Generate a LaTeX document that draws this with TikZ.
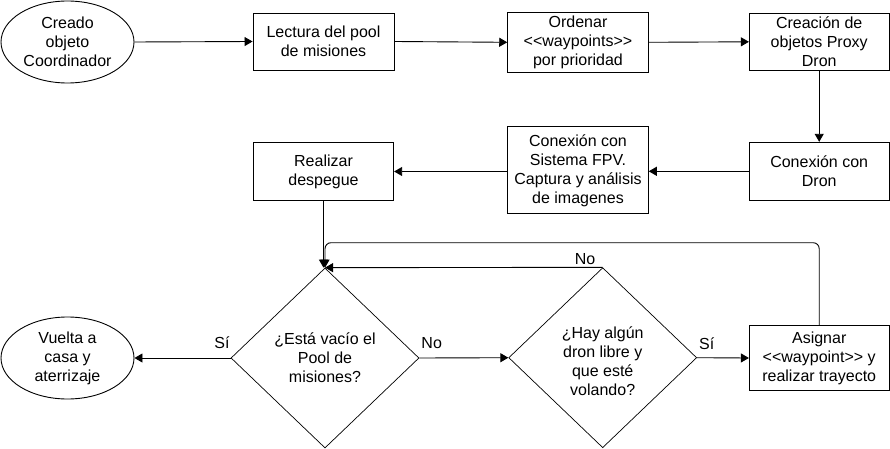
\documentclass[tikz,border=0pt]{standalone}
\usepackage{fontspec}
\setmainfont{Liberation Sans}
\usetikzlibrary{shapes.geometric,arrows.meta}
\tikzset{
  base/.style={draw=black, line width=0.9pt, align=center, inner sep=0pt, font=\fontsize{16}{19}\selectfont},
  procbox/.style={base, rectangle},
  termel/.style={base, ellipse, minimum width=133pt, minimum height=82pt},
  decide/.style={base, diamond, line width=0.7pt, minimum width=188pt, minimum height=180pt},
  conn/.style={draw=black, line width=0.9pt, -{Triangle[length=8pt,width=9pt]}},
  lbl/.style={font=\fontsize{16}{19}\selectfont, inner sep=0pt}
}
\begin{document}
\begin{tikzpicture}[x=1pt,y=-1pt]
\useasboundingbox (0,0) rectangle (890,449);
\node[termel] (e1) at (67.5,42) {Creado\\objeto\\Coordinador};
\node[procbox, minimum width=141pt, minimum height=57pt] (lec) at (323.5,41.5) {Lectura del pool\\de misiones};
\node[procbox, minimum width=140.6pt, minimum height=60pt] (ord) at (578,42.3) {Ordenar\\<{}<waypoints>{}>\\por prioridad};
\node[procbox, minimum width=139.7pt, minimum height=57pt] (cre) at (819.2,41.8) {Creación de\\objetos Proxy\\Dron};
\node[procbox, minimum width=139.7pt, minimum height=58pt] (dron) at (819.2,171.3) {Conexión con\\Dron};
\node[procbox, minimum width=140.6pt, minimum height=86.7pt] (fpv) at (578,170.3) {Conexión con\\Sistema FPV.\\Captura y análisis\\de imagenes};
\node[procbox, minimum width=140.4pt, minimum height=57.6pt] (des) at (323.5,171.5) {Realizar\\despegue};
\node[decide] (d1) at (325,358) {};
\node[base, draw=none] at (325,358) {¿Está vacío el\\Pool de\\misiones?};
\node[decide] (d2) at (602.7,357.7) {};
\node[base, draw=none] at (602.7,361) {¿Hay algún\\dron libre y\\que esté\\volando?};
\node[termel] (e2) at (67.5,358) {Vuelta a\\casa y\\aterrizaje};
\node[procbox, minimum width=139.7pt, minimum height=65.4pt] (asig) at (819.2,358) {Asignar\\<{}<waypoint>{}> y\\realizar trayecto};

\draw[conn] (e1.east) -- (lec.west);
\draw[conn] (lec.east) -- (ord.west);
\draw[conn] (ord.east) -- (cre.west);
\draw[conn] (cre.south) -- (dron.north);
\draw[conn] (dron.west) -- (fpv.east |- dron.west);
\draw[conn] (fpv.west |- des.east) -- (des.east);
\draw[conn] (des.south) -- (des.south |- d1.north);
\draw[conn] (d1.west) -- (e2.east);
\draw[conn] (d1.east) -- (d2.west);
\draw[conn] (d2.east) -- (asig.west);
\draw[conn] (d2.north) -- (d1.north);
\draw[conn, rounded corners=6pt] (asig.north) -- (asig.north |- 0,242.7) -- (d1.north |- 0,242.7) -- (d1.north);

\node[lbl] (l1) at (222,343) {Sí};
\node[lbl] (l2) at (431.7,343) {No};
\node[lbl] (l3) at (706.7,343.3) {Sí};
\node[lbl] (l4) at (585,259) {No};
\end{tikzpicture}
\end{document}
